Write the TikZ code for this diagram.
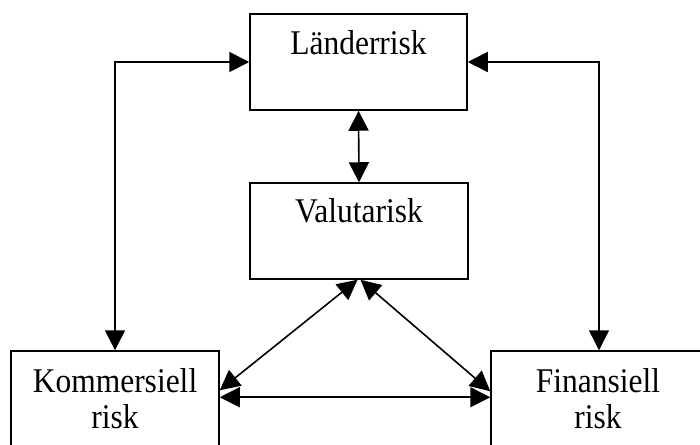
\documentclass[tikz,border=0pt]{standalone}
\usepackage{fontspec}
\setmainfont{Liberation Serif}
\usetikzlibrary{arrows.meta,calc}

% slightly tall lettering
\newcommand{\tallword}[1]{\scalebox{1}[1.1]{#1}}

\tikzset{
  riskbox/.style={draw, line width=1.5pt, rectangle, inner sep=0pt,
                  minimum width=#1, minimum height=96pt},
  riskbox/.default=217pt,
  caption/.style={inner sep=0pt, font=\fontsize{31.5}{37}\selectfont},
  link/.style={line width=1.6pt, {Triangle[length=20pt,width=20pt]}-{Triangle[length=20pt,width=20pt]}},
}

\begin{document}
\begin{tikzpicture}[x=1pt, y=-1pt]
  \useasboundingbox (0,0) rectangle (700,444);
  \clip (0,0) rectangle (700,444);

  % boxes
  \node[riskbox] (land) at (358.5,62) {};
  \node[riskbox=218pt] (valuta) at (359,231) {};
  \node[riskbox=208pt, minimum height=130pt] (komm) at (115,416) {};
  \node[riskbox=216pt, minimum height=130pt] (fin) at (599,416) {};

  % texts
  \node[caption, anchor=base] (tland) at (358.5,55) {\tallword{Länderrisk}};
  \node[caption, anchor=base] (tvaluta) at (359,222) {\tallword{Valutarisk}};
  \node[caption, anchor=base] (tkomm1) at (115,392) {\tallword{Kommersiell}};
  \node[caption, anchor=base] (tkomm2) at (115,428) {\tallword{risk}};
  \node[caption, anchor=base] (tfin1) at (598,392) {\tallword{Finansiell}};
  \node[caption, anchor=base] (tfin2) at (598,428) {\tallword{risk}};

  % connectors
  \draw[link] (komm.north) |- (land.west);
  \draw[link] (fin.north) |- (land.east);
  \draw[link] (land.south) -- (valuta.north);
  \draw[link] ([xshift=-1.5pt]valuta.south) -- ([yshift=-40pt]komm.north east);
  \draw[link] ([xshift=1.5pt]valuta.south) -- ([yshift=-41pt]fin.north west);
  \draw[link] ([yshift=-47pt]komm.north east) -- ([yshift=-47pt]fin.north west);
\end{tikzpicture}
\end{document}
